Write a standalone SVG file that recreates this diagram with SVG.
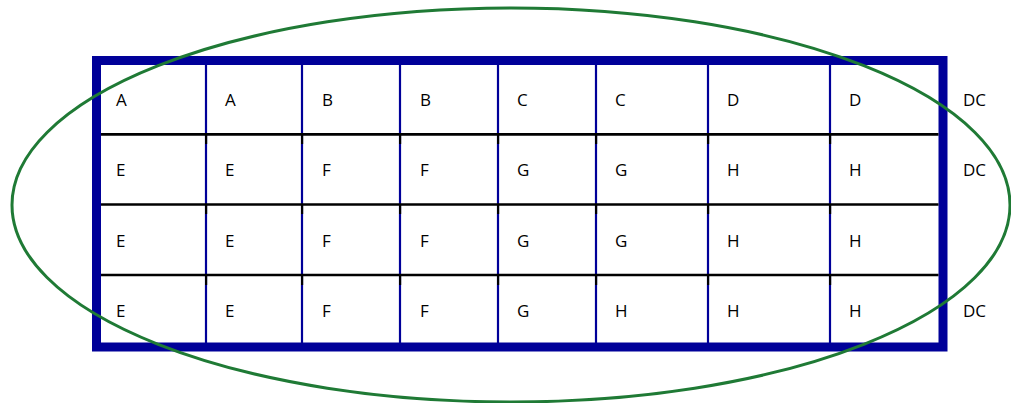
<svg xmlns="http://www.w3.org/2000/svg" width="1011" height="403" viewBox="0 0 1011 403">
<style>
.t{font-family:"Open Sans","Noto Sans",sans-serif;font-size:17px;fill:#000}
.v{stroke:#000099;stroke-width:2.2}
.h{stroke:#000;stroke-width:2.7}
.s{fill:#000}
</style>
<rect width="1011" height="403" fill="#fff"/>
<g id="grid">
<rect x="96.5" y="60.5" width="846.5" height="286.5" fill="#fff" stroke="#000099" stroke-width="9"/>
<g id="vlines">
<line class="v" x1="206" y1="65" x2="206" y2="343"/>
<line class="v" x1="302" y1="65" x2="302" y2="343"/>
<line class="v" x1="400" y1="65" x2="400" y2="343"/>
<line class="v" x1="498" y1="65" x2="498" y2="343"/>
<line class="v" x1="596" y1="65" x2="596" y2="343"/>
<line class="v" x1="708" y1="65" x2="708" y2="343"/>
<line class="v" x1="830" y1="65" x2="830" y2="343"/>
</g>
<g id="hlines">
<line class="h" x1="101" y1="134.3" x2="938.5" y2="134.3"/>
<line class="h" x1="101" y1="204.5" x2="938.5" y2="204.5"/>
<line class="h" x1="101" y1="275" x2="938.5" y2="275"/>
</g>
<g id="stubs">
<rect class="s" x="205" y="134" width="2.2" height="10"/><rect class="s" x="301" y="134" width="2.2" height="10"/><rect class="s" x="399" y="134" width="2.2" height="10"/><rect class="s" x="497" y="134" width="2.2" height="10"/><rect class="s" x="595" y="134" width="2.2" height="10"/><rect class="s" x="707" y="134" width="2.2" height="10"/><rect class="s" x="829" y="134" width="2.2" height="10"/>
<rect class="s" x="205" y="204" width="2.2" height="10"/><rect class="s" x="301" y="204" width="2.2" height="10"/><rect class="s" x="399" y="204" width="2.2" height="10"/><rect class="s" x="497" y="204" width="2.2" height="10"/><rect class="s" x="595" y="204" width="2.2" height="10"/><rect class="s" x="707" y="204" width="2.2" height="10"/><rect class="s" x="829" y="204" width="2.2" height="10"/>
<rect class="s" x="205" y="275" width="2.2" height="10"/><rect class="s" x="301" y="275" width="2.2" height="10"/><rect class="s" x="399" y="275" width="2.2" height="10"/><rect class="s" x="497" y="275" width="2.2" height="10"/><rect class="s" x="595" y="275" width="2.2" height="10"/><rect class="s" x="707" y="275" width="2.2" height="10"/><rect class="s" x="829" y="275" width="2.2" height="10"/>
</g>
</g>
<g id="row1">
<text class="t" x="116" y="106">A</text><text class="t" x="225" y="106">A</text><text class="t" x="322" y="106">B</text><text class="t" x="420" y="106">B</text><text class="t" x="517" y="106">C</text><text class="t" x="615" y="106">C</text><text class="t" x="727" y="106">D</text><text class="t" x="849" y="106">D</text><text class="t" x="963" y="106">DC</text>
</g>
<g id="row2">
<text class="t" x="116" y="176">E</text><text class="t" x="225" y="176">E</text><text class="t" x="322" y="176">F</text><text class="t" x="420" y="176">F</text><text class="t" x="517" y="176">G</text><text class="t" x="615" y="176">G</text><text class="t" x="727" y="176">H</text><text class="t" x="849" y="176">H</text><text class="t" x="963" y="176">DC</text>
</g>
<g id="row3">
<text class="t" x="116" y="246.5">E</text><text class="t" x="225" y="246.5">E</text><text class="t" x="322" y="246.5">F</text><text class="t" x="420" y="246.5">F</text><text class="t" x="517" y="246.5">G</text><text class="t" x="615" y="246.5">G</text><text class="t" x="727" y="246.5">H</text><text class="t" x="849" y="246.5">H</text>
</g>
<g id="row4">
<text class="t" x="116" y="317">E</text><text class="t" x="225" y="317">E</text><text class="t" x="322" y="317">F</text><text class="t" x="420" y="317">F</text><text class="t" x="517" y="317">G</text><text class="t" x="615" y="317">H</text><text class="t" x="727" y="317">H</text><text class="t" x="849" y="317">H</text><text class="t" x="963" y="317">DC</text>
</g>
<g id="ellipse">
<ellipse cx="511" cy="205" rx="499" ry="197" fill="none" stroke="#1f7a35" stroke-width="3"/>
</g>
</svg>
